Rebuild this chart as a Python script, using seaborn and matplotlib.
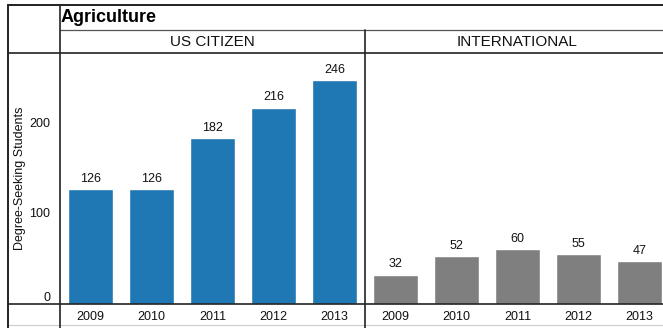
import matplotlib
matplotlib.use("Agg")
import matplotlib.pyplot as plt
from matplotlib.lines import Line2D
import seaborn as sns
import pandas as pd

# Degree-seeking students in Agriculture by citizenship and year
years = ["2009", "2010", "2011", "2012", "2013"]
us_citizen = [126, 126, 182, 216, 246]
international = [32, 52, 60, 55, 47]
panel_titles = ["US CITIZEN", "INTERNATIONAL"]
panel_colors = ["#1f77b4", "#7f7f7f"]
title = "Agriculture"
y_label = "Degree-Seeking Students"
y_ticks = [0, 100, 200]

sns.set_style("white")
plt.rcParams["font.family"] = ["Liberation Sans", "DejaVu Sans"]

TEXT = "#111111"
W, H = 663, 328
fig = plt.figure(figsize=(W / 100, H / 100), dpi=100)


def fx(px):
    return px / W


def fy(py):
    return 1 - py / H


def hline(y, x0, x1, color="#222222", lw=1.2):
    fig.add_artist(Line2D([fx(x0), fx(x1)], [fy(y), fy(y)], color=color, lw=lw,
                          transform=fig.transFigure))


def vline(x, y0, y1, color="#222222", lw=1.2):
    fig.add_artist(Line2D([fx(x), fx(x)], [fy(y0), fy(y1)], color=color, lw=lw,
                          transform=fig.transFigure))


top, bottom = 53, 303.7
panel_w = 305
panel_x = [60, 365]
ymax = 276

frames = [
    pd.DataFrame({"year": years, "students": us_citizen}),
    pd.DataFrame({"year": years, "students": international}),
]

for i, (df, color, ptitle) in enumerate(zip(frames, panel_colors, panel_titles)):
    x0 = panel_x[i]
    ax = fig.add_axes([fx(x0), fy(bottom), panel_w / W, (bottom - top) / H])
    sns.barplot(data=df, x="year", y="students", color=color, width=0.75,
                saturation=1, ax=ax, errorbar=None)
    ax.set_xlim(-0.5, len(years) - 0.5)
    ax.set_ylim(0, ymax)
    for s in ax.spines.values():
        s.set_visible(False)
    ax.set_xlabel("")
    ax.set_ylabel("")
    ax.bar_label(ax.containers[0], fmt="%d", padding=3, fontsize=9, color=TEXT)
    # category labels and separator ticks
    ax.tick_params(axis="x", which="major", length=0, pad=5, labelsize=9,
                   labelcolor=TEXT)
    ax.set_xticks([k + 0.5 for k in range(len(years) - 1)], minor=True)
    ax.tick_params(axis="x", which="minor", length=4, color="#cccccc", direction="out")
    ax.set_yticks(y_ticks)
    if i == 0:
        ax.tick_params(axis="y", length=6, color="#cccccc", labelsize=9,
                       labelcolor=TEXT, pad=1)
        # keep the zero label above the baseline
        ax.get_yticklabels()[0].set_verticalalignment("bottom")
    else:
        ax.tick_params(axis="y", length=0, labelleft=False)
    fig.text(fx(x0 + panel_w / 2), fy(42), ptitle, ha="center", va="center",
             fontsize=11, color=TEXT)

fig.text(fx(20), fy((top + bottom) / 2), y_label, rotation=90, ha="center",
         va="center", fontsize=9, color=TEXT)
fig.text(fx(61), fy(17.5), title, ha="left", va="center", fontsize=13,
         fontweight="bold", color="#000000")

# table-style frame
hline(5, 8, W, lw=1.4)
hline(30, 60, W, color="#555555", lw=0.9)
hline(53, 8, W, lw=1.2)
hline(303.7, 8, W, lw=1.2)
hline(325, 8, W, color="#cccccc", lw=0.8)
vline(8, 5, H, lw=1.4)
vline(60, 5, H, lw=1.2)
vline(365, 30, H, lw=1.2)

fig.savefig("out.png", dpi=100)
